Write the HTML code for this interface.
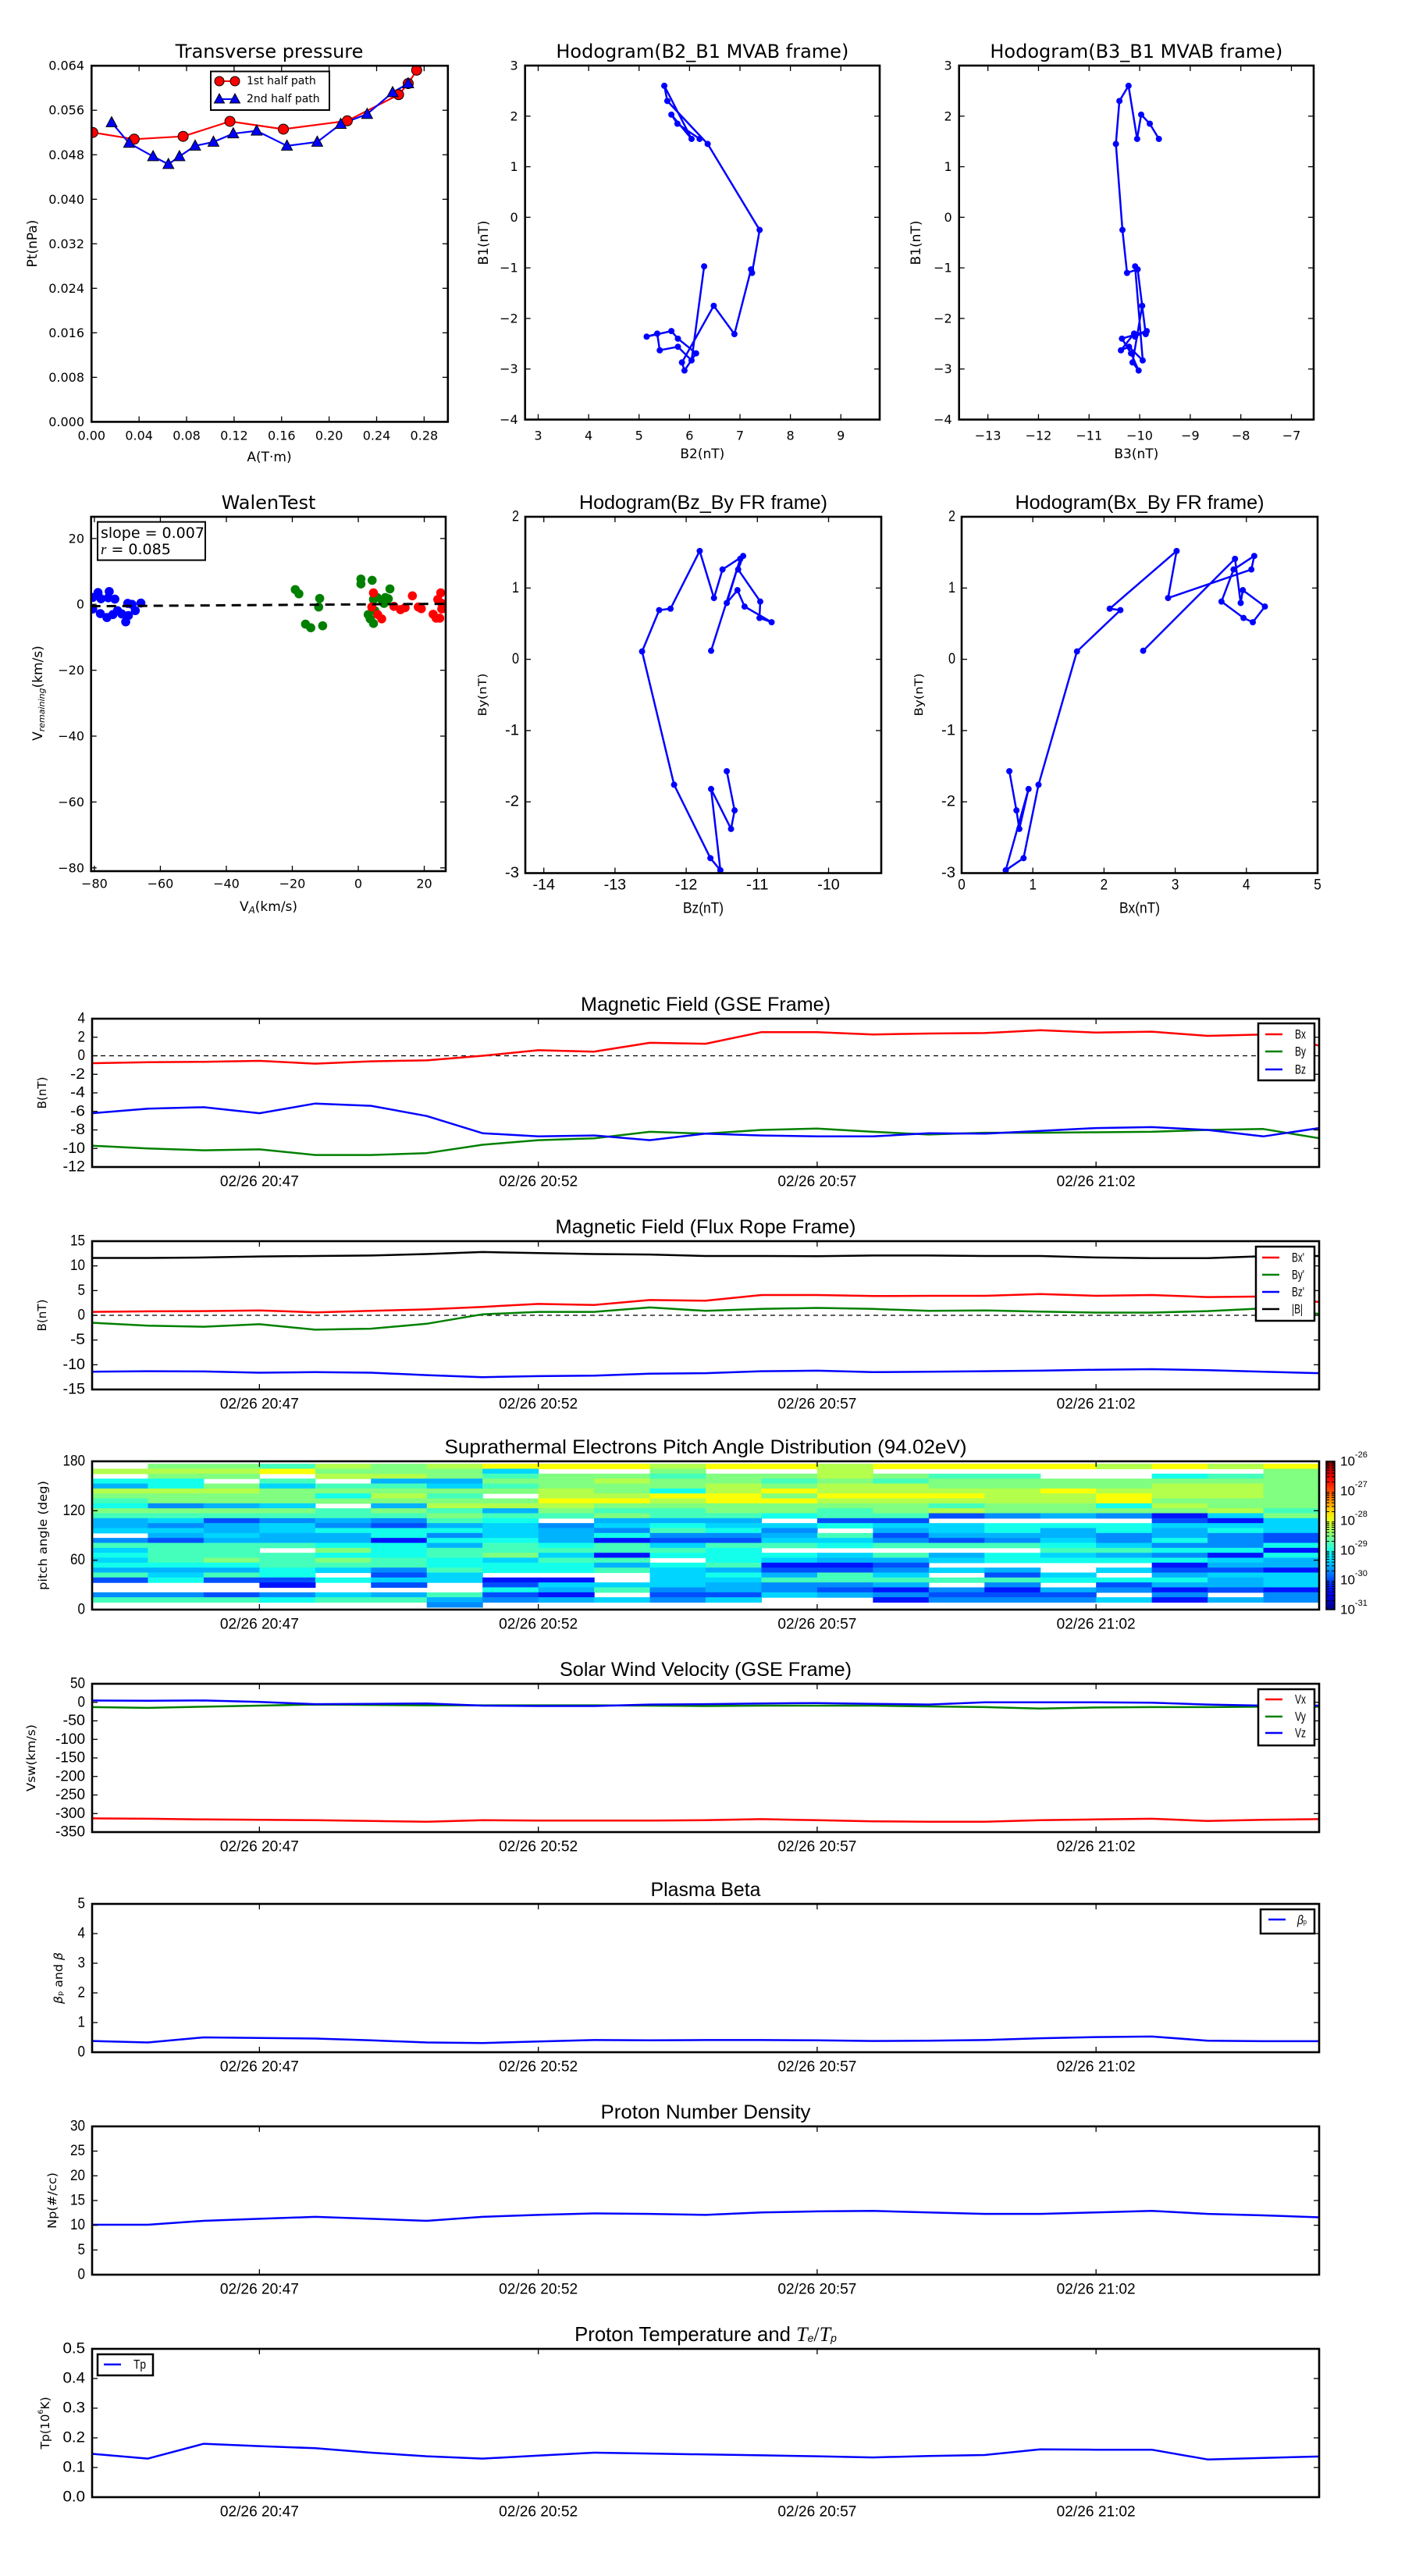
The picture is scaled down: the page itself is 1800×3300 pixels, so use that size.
<!DOCTYPE html>
<html><head><meta charset="utf-8"><title>Flux rope analysis</title>
<style>html,body{margin:0;padding:0;background:#fff}svg{display:block}</style></head>
<body>
<svg id="fig" xmlns="http://www.w3.org/2000/svg" width="1800" height="3300" viewBox="0 0 1800 3300"><rect width="1800" height="3300" fill="#fff"/></svg>
<script>
// ---------- DATA ----------
const ptA1=[0.001,0.0359,0.0771,0.1165,0.1615,0.2153,0.2585,0.2666,0.2737];
const ptP1=[0.0520,0.0508,0.0513,0.0540,0.0526,0.0541,0.0588,0.0608,0.0632];
const ptA2=[0.0169,0.0316,0.0518,0.0647,0.074,0.0872,0.1026,0.1193,0.139,0.1645,0.19,0.2098,0.232,0.2535,0.2666];
const ptP2=[0.0538,0.0501,0.0477,0.0463,0.0477,0.0496,0.0503,0.0518,0.0523,0.0496,0.0503,0.0535,0.0553,0.0592,0.0608];
const mvB1=[1.55,1.85,2.03,1.55,2.6,2.3,1.45,-0.25,-1.1,-1.03,-2.31,-1.75,-2.87,-3.03,-2.69,-2.40,-2.25,-2.36,-2.30,-2.63,-2.56,-2.83,-0.97];
const mvB2=[6.2,5.76,5.64,6.04,5.50,5.56,6.36,7.39,7.24,7.22,6.89,6.48,5.85,5.90,6.13,5.77,5.64,5.15,5.36,5.41,5.77,6.04,6.29];
const mvB3=[-9.62,-9.8,-9.97,-10.05,-10.22,-10.4,-10.47,-10.34,-10.25,-10.04,-9.88,-9.95,-10.14,-10.02,-10.17,-10.35,-9.86,-10.09,-10.11,-10.37,-10.21,-9.94,-10.09];
const wBlueX=[-80.5,-80.5,-78.9,-78,-78.2,-76.2,-75.5,-75.8,-74.4,-73.8,-73,-71.7,-70.5,-69.9,-69.7,-68.6,-67.6,-65.9];
const wBlueY=[2.1,-1.4,3.6,1.7,-2.8,-4,3.9,2,-3.1,1.6,-1.9,-2.9,-5.3,0.3,-3.4,0,-1.9,0.4];
const wGreenX=[-19.1,-18,-16,-14.4,-12,-11.7,-10.8,0.8,0.8,4.2,3,3.6,4.6,5,4.6,5.7,7.3,8.2,9.6,9.1,7.8];
const wGreenY=[4.5,3.2,-6,-7.1,-0.8,1.8,-6.5,7.7,6.2,7.3,-3.1,-4.4,-5.8,-1.9,1.5,2.1,1.1,2.1,4.7,1.7,0.3];
const wRedX=[4.6,4.1,5.9,7.1,10.8,12.8,14.2,16.4,18.2,19.1,22.7,23.6,24.7,24.1,25,25.3,25.3];
const wRedY=[3.5,-0.8,-3.1,-4.4,-0.6,-1.6,-1,2.6,-0.8,-1.3,-3,-4.2,-4.2,1.5,3.5,0.3,-1.4];
const walenSlope=0.007, walenIntercept=0.0;
const frhX=[0.67,0.77,0.81,0.94,0.62,0.87,1.08,1.62,2.23,2.08,3.02,2.9,4.07,4.11,3.82,3.65,3.96,4.09,4.26,3.95,3.92,3.84,2.55];
const frhY=[-1.57,-2.12,-2.38,-1.82,-2.96,-2.79,-1.76,0.11,0.69,0.71,1.52,0.86,1.26,1.45,1.26,0.81,0.58,0.52,0.74,0.97,0.79,1.41,0.12];
const frhZ=[-11.43,-11.32,-11.37,-11.65,-11.52,-11.66,-12.17,-12.62,-12.38,-12.22,-11.81,-11.61,-11.49,-11.2,-11.27,-10.96,-10.97,-10.8,-11.18,-11.28,-11.43,-11.24,-11.65];
const minutes=[0,1,2,3,4,5,6,7,8,9,10,11,12,13,14,15,16,17,18,19,20,21,22];
const timeTickMin=[3,8,13,18];
const timeTickLabels=["02/26 20:47","02/26 20:52","02/26 20:57","02/26 21:02"];
const gseBx=[-0.8,-0.7,-0.65,-0.55,-0.85,-0.6,-0.5,0,0.6,0.45,1.4,1.3,2.55,2.55,2.3,2.4,2.45,2.75,2.5,2.6,2.15,2.3,1.1];
const gseBy=[-9.7,-10.0,-10.2,-10.1,-10.7,-10.7,-10.5,-9.6,-9.1,-8.9,-8.2,-8.4,-8.0,-7.85,-8.2,-8.5,-8.3,-8.3,-8.25,-8.2,-8.0,-7.9,-8.9];
const gseBz=[-6.2,-5.7,-5.55,-6.2,-5.15,-5.4,-6.5,-8.35,-8.7,-8.6,-9.1,-8.4,-8.6,-8.7,-8.7,-8.35,-8.4,-8.1,-7.8,-7.7,-8.0,-8.7,-7.8];
const frBx=[0.7,0.8,0.85,1.0,0.6,0.9,1.2,1.7,2.3,2.1,3.1,2.95,4.1,4.1,3.9,3.95,3.95,4.3,3.95,4.1,3.7,3.8,2.7];
const frBy=[-1.5,-2.1,-2.3,-1.8,-2.9,-2.7,-1.7,0.2,0.7,0.7,1.6,0.9,1.3,1.5,1.3,0.9,1.0,0.75,0.55,0.55,0.85,1.4,0.3];
const frBz=[-11.4,-11.3,-11.35,-11.6,-11.5,-11.6,-12.1,-12.5,-12.3,-12.2,-11.8,-11.7,-11.3,-11.2,-11.5,-11.4,-11.3,-11.2,-11.0,-10.9,-11.1,-11.4,-11.7];
const frBt=[11.6,11.6,11.7,11.9,12.0,12.1,12.4,12.8,12.6,12.4,12.3,12.0,12.0,11.95,12.1,12.1,12.0,12.0,11.7,11.55,11.55,11.95,12.0];
const swVx=[-313,-314,-316,-317,-318,-320,-322,-318,-319,-319,-319,-318,-315,-318,-321,-322,-322,-318,-316,-314,-320,-317,-315];
const swVy=[-13,-15,-12,-9,-6,-7,-8,-8,-8,-8,-9,-10,-9,-9,-9,-11,-13,-17,-14,-13,-13,-12,-12];
const swVz=[5,4,5,1,-5,-4,-3,-9,-10,-10,-6,-5,-3,-2,-4,-6,0,0,0,-1,-6,-9,-9];
const betaP=[0.38,0.33,0.5,0.48,0.46,0.4,0.33,0.31,0.36,0.41,0.4,0.41,0.41,0.4,0.38,0.39,0.41,0.47,0.51,0.53,0.39,0.37,0.37];
const npDens=[10.1,10.1,10.9,11.3,11.7,11.3,10.9,11.7,12.1,12.4,12.3,12.1,12.6,12.8,12.9,12.6,12.3,12.3,12.6,12.9,12.3,12.0,11.6];
const tpTemp=[0.146,0.13,0.18,0.172,0.165,0.15,0.138,0.13,0.14,0.15,0.147,0.144,0.141,0.138,0.134,0.139,0.142,0.161,0.16,0.16,0.127,0.132,0.137];
// PAD: rows from high pitch angle (centre 174) down to centre 6; one char per 1-min column; w = no data
const padCenters=[174,168,162,156,150,144,138,132,126,120,114,108,102,96,90,84,78,72,66,60,54,48,42,36,30,24,18,12,6];
const padRows=[
"w887989YYY9YY9YYYY9Y9Y","999Y8885ww8ww9wwwwwww8","w88w9987887889877ww678","66w7w44889887878888888",
"4685775788898998888998","999888889869Y9999Y9998","8888697w99YY8YYY99Y998","78888888YY9YY99999Y888",
"6345w49998888887886988","8888787487788789888897","7777778778776772343158","45234376w444w22wwww215",
"4345324535655655666555","5545666543763w45646465","w454463546334724443432","3244416641225532353632",
"7777664767577677765336","577w86777776wwwww77661","6777667851666574654316","5787876577w65445666654",
"666777666467112wwww144","44465376675422354w5221","7576w25www56475w25w455","262265511w557777766645",
"www1w2w25554334w3w2445","wwwwwww647343213143121","332354721w22543222w3w3","777677434535ww13335143",
"wwwwww3wwwwwwwwwwwwwww"];
const padCodes=['1','2','3','4','5','6','7','8','9','Y'];
const padLogVals=[-30.28,-29.99,-29.69,-29.5,-29.33,-29.03,-28.79,-28.5,-28.25,-27.9];

// ---------- HELPERS ----------
const NS='http://www.w3.org/2000/svg';
const svg=document.getElementById('fig');
const DJ='"DejaVu Sans","Liberation Sans",sans-serif';
const LS='"Liberation Sans","DejaVu Sans",sans-serif';
function el(tag,attrs,parent){const e=document.createElementNS(NS,tag);for(const k in attrs)e.setAttribute(k,attrs[k]);(parent||svg).appendChild(e);return e;}
function nm(e,name){
  
  
  return e;}
function txt(x,y,s,o,parent){o=o||{};const e=el('text',{x:x,y:y,'font-size':o.size||16,'text-anchor':o.anchor||'middle','dominant-baseline':'central','font-family':o.font||DJ,fill:'#000'},parent);
  if(o.len){e.setAttribute('textLength',o.len);e.setAttribute('lengthAdjust','spacingAndGlyphs');}
  if(o.rot)e.setAttribute('transform','rotate('+o.rot+' '+x+' '+y+')');
  if(o.italic)e.setAttribute('font-style','italic');
  e.textContent=s;return e;}
function lin(d0,d1,r0,r1){return v=>r0+(v-d0)*(r1-r0)/(d1-d0);}
let clipId=0;
function axes(name,x0,x1,y0,y1,xd,yd){
  const g=nm(el('g',{}),name);
  const id='clip'+(clipId++);
  const cp=el('clipPath',{id:id},g);el('rect',{x:x0,y:y0,width:x1-x0,height:y1-y0},cp);
  const data=nm(el('g',{'clip-path':'url(#'+id+')'},g),name+'-data');
  return {g:g,data:data,x0:x0,x1:x1,y0:y0,y1:y1,X:lin(xd[0],xd[1],x0,x1),Y:lin(yd[0],yd[1],y1,y0)};
}
function frame(a,xt,yt,tl){
  tl=tl||8;
  const t=nm(el('g',{stroke:'#000','stroke-width':1.3},a.g),'ticks');
  xt.forEach(v=>{const x=a.X(v);el('line',{x1:x,y1:a.y1,x2:x,y2:a.y1-tl},t);el('line',{x1:x,y1:a.y0,x2:x,y2:a.y0+tl},t);});
  yt.forEach(v=>{const y=a.Y(v);el('line',{x1:a.x0,y1:y,x2:a.x0+tl,y2:y},t);el('line',{x1:a.x1,y1:y,x2:a.x1-tl,y2:y},t);});
  nm(el('rect',{x:a.x0,y:a.y0,width:a.x1-a.x0,height:a.y1-a.y0,fill:'none',stroke:'#000','stroke-width':2.6},a.g),'axes-frame');
}
function line(a,xs,ys,color,w,name,dash){
  const p=xs.map((v,i)=>a.X(v).toFixed(1)+','+a.Y(ys[i]).toFixed(1)).join(' ');
  const e=el('polyline',{points:p,fill:'none',stroke:color,'stroke-width':w||2.5,'stroke-linejoin':'round'},a.data);
  if(dash)e.setAttribute('stroke-dasharray',dash);
  nm(e,name);return e;}
function dots(a,xs,ys,color,r,name){
  const g=nm(el('g',{fill:color},a.data),name);
  xs.forEach((v,i)=>{const c=el('circle',{cx:a.X(v),cy:a.Y(ys[i]),r:r},g);
    
    });
  return g;}
const fmtM=v=>(v<0?'\u2212':'')+Math.abs(v);

// ---------- ROW 1 ----------
{ // Transverse pressure
  const a=axes('transverse-pressure-chart',117.3,573.8,84.2,540.4,[0,0.30],[0,0.064]);
  const xt=[0,0.04,0.08,0.12,0.16,0.20,0.24,0.28], yt=[0,0.008,0.016,0.024,0.032,0.040,0.048,0.056,0.064];
  line(a,ptA1,ptP1,'#ff0000',2.2,'first-half-line');
  line(a,ptA2,ptP2,'#0000ff',2.2,'second-half-line');
  const rg=nm(el('g',{},a.data),'first-half-markers');
  ptA1.forEach((v,i)=>{const c=el('circle',{cx:a.X(v),cy:a.Y(ptP1[i]),r:6.5,fill:'#ff0000',stroke:'#000','stroke-width':1},rg);
    
    });
  const bg=nm(el('g',{},a.data),'second-half-markers');
  ptA2.forEach((v,i)=>{const x=a.X(v),y=a.Y(ptP2[i]);const p=el('polygon',{points:(x)+','+(y-7.5)+' '+(x-7)+','+(y+5.5)+' '+(x+7)+','+(y+5.5),fill:'#0000ff',stroke:'#000','stroke-width':1},bg);
    
    });
  frame(a,xt,yt,7);
  xt.forEach(v=>txt(a.X(v),558,v.toFixed(2),{size:16},a.g));
  yt.forEach(v=>txt(108,a.Y(v),v.toFixed(3),{size:16,anchor:'end'},a.g));
  nm(txt(345,66,'Transverse pressure',{size:24},a.g),'chart-title');
  nm(txt(345,586,'A(T\u00b7m)',{size:17},a.g),'x-axis-title');
  nm(txt(42,312,'Pt(nPa)',{size:17,rot:-90},a.g),'y-axis-title');
  const lg=nm(el('g',{},a.g),'legend');
  el('rect',{x:270,y:91.5,width:152,height:49.5,fill:'#fff',stroke:'#000','stroke-width':2},lg);
  el('line',{x1:281,y1:104,x2:301,y2:104,stroke:'#ff0000','stroke-width':2},lg);
  el('circle',{cx:281,cy:104,r:6,fill:'#ff0000',stroke:'#000','stroke-width':1},lg);
  el('circle',{cx:301,cy:104,r:6,fill:'#ff0000',stroke:'#000','stroke-width':1},lg);
  nm(txt(316,104,'1st half path',{size:14,anchor:'start'},lg),'legend-entry');
  el('line',{x1:281,y1:127,x2:301,y2:127,stroke:'#0000ff','stroke-width':2},lg);
  [281,301].forEach(x=>el('polygon',{points:x+','+(127-7)+' '+(x-6.5)+','+(127+5)+' '+(x+6.5)+','+(127+5),fill:'#0000ff',stroke:'#000','stroke-width':1},lg));
  nm(txt(316,127,'2nd half path',{size:14,anchor:'start'},lg),'legend-entry');
}
function hodoTop(name,x0,x1,xd,xs,ys,xt,title,xl,ylx){
  const a=axes(name,x0,x1,84,537.5,xd,[-4,3]);
  const yt=[-4,-3,-2,-1,0,1,2,3];
  line(a,xs,ys,'#0000ff',2.5,'hodogram-line');
  dots(a,xs,ys,'#0000ff',4,'hodogram-markers');
  frame(a,xt,yt,7);
  xt.forEach(v=>txt(a.X(v),558,fmtM(v),{size:16},a.g));
  yt.forEach(v=>txt(x0-9,a.Y(v),fmtM(v),{size:16,anchor:'end'},a.g));
  nm(txt((x0+x1)/2,66,title,{size:24},a.g),'chart-title');
  nm(txt((x0+x1)/2,582,xl,{size:17},a.g),'x-axis-title');
  nm(txt(ylx,311,'B1(nT)',{size:17,rot:-90},a.g),'y-axis-title');
}
hodoTop('hodogram-b2-b1-chart',672.7,1127,[2.74,9.77],mvB2,mvB1,[3,4,5,6,7,8,9],'Hodogram(B2_B1 MVAB frame)','B2(nT)',620);
hodoTop('hodogram-b3-b1-chart',1228.7,1683,[-13.57,-6.56],mvB3,mvB1,[-13,-12,-11,-10,-9,-8,-7],'Hodogram(B3_B1 MVAB frame)','B3(nT)',1174);

// ---------- ROW 2 ----------
{ const a=axes('walen-test-chart',116.7,571,662,1116,[-81,26.5],[-81,26.6]);
  const xt=[-80,-60,-40,-20,0,20], yt=[-80,-60,-40,-20,0,20];
  dots(a,wBlueX,wBlueY,'#0000ff',5.8,'walen-blue-points');
  dots(a,wGreenX,wGreenY,'#008000',5.8,'walen-green-points');
  dots(a,wRedX,wRedY,'#ff0000',5.8,'walen-red-points');
  const fx=[-81,26.5];
  line(a,fx,fx.map(v=>walenSlope*v+walenIntercept),'#000',3,'walen-fit-line','12,8');
  frame(a,xt,yt,7);
  xt.forEach(v=>txt(a.X(v),1132,fmtM(v),{size:16},a.g));
  yt.forEach(v=>txt(108,a.Y(v),fmtM(v),{size:16,anchor:'end'},a.g));
  nm(txt(344,644,'WalenTest',{size:24},a.g),'chart-title');
  const xl=nm(txt(344,1162,'',{size:17},a.g),'x-axis-title');
  xl.innerHTML='V<tspan font-size="12" font-style="italic" dy="4">A</tspan><tspan dy="-4">(km/s)</tspan>';
  const yl=nm(txt(49,888,'',{size:17,rot:-90},a.g),'y-axis-title');
  yl.innerHTML='V<tspan font-size="11" font-style="italic" dy="4">remaining</tspan><tspan dy="-4">(km/s)</tspan>';
  const bx=nm(el('g',{},a.g),'walen-stats-box');
  el('rect',{x:125,y:668.6,width:138,height:49,fill:'#fff',stroke:'#000','stroke-width':2},bx);
  txt(129,683,'slope = 0.007',{size:19,anchor:'start'},bx);
  const r=txt(129,704,'',{size:19,anchor:'start'},bx);
  r.innerHTML='<tspan font-style="italic" font-family="Liberation Serif,serif">r</tspan> = 0.085';
}
function hodoFR(name,x0,x1,xd,xs,ys,xt,title,xl,ylx,tw){
  const a=axes(name,x0,x1,662,1118.5,xd,[-3,2]);
  const yt=[-3,-2,-1,0,1,2];
  line(a,xs,ys,'#0000ff',2.5,'hodogram-line');
  dots(a,xs,ys,'#0000ff',4,'hodogram-markers');
  frame(a,xt,yt,7);
  xt.forEach(v=>{const s=String(v);txt(a.X(v),1134,s,{size:19,font:LS,len:s.length*9.5},a.g);});
  yt.forEach(v=>{const s=String(v);txt(x0-8,a.Y(v),s,{size:19,font:LS,anchor:'end',len:s.length*9},a.g);});
  nm(txt((x0+x1)/2,644,title,{size:25,font:LS,len:tw},a.g),'chart-title');
  nm(txt((x0+x1)/2,1164,xl,{size:19,font:LS,len:52},a.g),'x-axis-title');
  nm(txt(ylx,890,'By(nT)',{size:14,rot:-90,len:55},a.g),'y-axis-title');
}
hodoFR('hodogram-bz-by-chart',673,1129,[-14.26,-9.26],frhZ,frhY,[-14,-13,-12,-11,-10],'Hodogram(Bz_By FR frame)','Bz(nT)',619,318);
hodoFR('hodogram-bx-by-chart',1232,1688,[0,5],frhX,frhY,[0,1,2,3,4,5],'Hodogram(Bx_By FR frame)','Bx(nT)',1178,319);

// ---------- TIME SERIES ----------
function tsPanel(name,y0,yd,yt,title,tw){
  const a=axes(name,118,1690,y0,y0+190,[0,22],yd);
  a.yt=yt;
  if(title) nm(txt(904,y0-18,title,{size:25,font:LS,len:tw},a.g),'chart-title');
  return a;}
function tsFinish(a,fmt){
  frame(a,timeTickMin,a.yt,7);
  timeTickMin.forEach((m,i)=>nm(txt(a.X(m),a.y1+19,timeTickLabels[i],{size:19,font:LS,len:101},a.g),'x-tick-label'));
  a.yt.forEach(v=>{const s=fmt?fmt(v):String(v);txt(109,a.Y(v),s,{size:19,font:LS,anchor:'end',len:s.length*9.5},a.g);});
}
function legendBox(a,x,y,w,h,entries,lineX,txtX){
  const g=nm(el('g',{},a.g),'legend');
  el('rect',{x:x,y:y,width:w,height:h,fill:'#fff',stroke:'#000','stroke-width':2.5},g);
  entries.forEach(e=>{el('line',{x1:lineX,y1:e[2],x2:lineX+22,y2:e[2],stroke:e[1],'stroke-width':2.5},g);
    const t=nm(txt(txtX,e[2],'',{size:17,font:LS,anchor:'start'},g),'legend-entry');
    t.innerHTML=e[0];
    t.setAttribute('textLength',e[3]||14);t.setAttribute('lengthAdjust','spacingAndGlyphs');});
}
function ylab(a,x,html,len){const t=nm(txt(x,(a.y0+a.y1)/2,'',{size:15,rot:-90,len:len},a.g),'y-axis-title');t.innerHTML=html;}

{ const a=tsPanel('magnetic-field-gse-chart',1305,[-12,4],[-12,-10,-8,-6,-4,-2,0,2,4],'Magnetic Field (GSE Frame)',320);
  line(a,[0,22],[0,0],'#000',1.3,'zero-line','6,5');
  line(a,minutes,gseBx,'#ff0000',2.5,'bx-line');
  line(a,minutes,gseBy,'#008000',2.5,'by-line');
  line(a,minutes,gseBz,'#0000ff',2.5,'bz-line');
  tsFinish(a);
  legendBox(a,1612,1311,72,73,[['Bx','#ff0000',1325],['By','#008000',1347],['Bz','#0000ff',1370]],1621,1659);
  ylab(a,54,'B(nT)',41);
}
{ const a=tsPanel('magnetic-field-flux-rope-chart',1590,[-15,15],[-15,-10,-5,0,5,10,15],'Magnetic Field (Flux Rope Frame)',385);
  line(a,[0,22],[0,0],'#000',1.3,'zero-line','6,5');
  line(a,minutes,frBx,'#ff0000',2.5,'bx-prime-line');
  line(a,minutes,frBy,'#008000',2.5,'by-prime-line');
  line(a,minutes,frBz,'#0000ff',2.5,'bz-prime-line');
  line(a,minutes,frBt,'#000000',2.5,'b-magnitude-line');
  tsFinish(a);
  legendBox(a,1609,1597,75,95,[["Bx'",'#ff0000',1611,16],["By'",'#008000',1633,16],["Bz'",'#0000ff',1655,16],['|B|','#000',1677,14]],1617,1655);
  ylab(a,54,'B(nT)',41);
}
function jet(t){const c=v=>Math.round(255*Math.max(0,Math.min(1,v)));
  return 'rgb('+c(Math.min(4*t-1.5,-4*t+4.5))+','+c(Math.min(4*t-0.5,-4*t+3.5))+','+c(Math.min(4*t+0.5,-4*t+2.5))+')';}
{ const a=tsPanel('pitch-angle-distribution-chart',1872,[0,180],[0,60,120,180],'Suprathermal Electrons Pitch Angle Distribution (94.02eV)',669);
  const cg=nm(el('g',{},a.data),'heatmap');
  padRows.forEach((row,r)=>{const c=padCenters[r];
    for(let i=0;i<row.length;i++){const k=padCodes.indexOf(row[i]);if(k<0)continue;
      const v=padLogVals[k];const t=(v+31)/5;
      const x=a.X(minutes[i]),x2=a.X(minutes[i]+1),y=a.Y(c+3),y2=a.Y(c-3);
      const cell=el('rect',{x:x.toFixed(2),y:y.toFixed(2),width:(x2-x+0.6).toFixed(2),height:(y2-y+0.6).toFixed(2),fill:jet(t)},cg);
      
      }});
  tsFinish(a);
  ylab(a,55,'pitch angle (deg)',140);
  const cb=nm(el('g',{},a.g),'colorbar');
  const gr=el('linearGradient',{id:'jetgrad',x1:0,y1:1,x2:0,y2:0},cb);
  for(let i=0;i<=20;i++)el('stop',{offset:(i/20),'stop-color':jet(i/20)},gr);
  el('rect',{x:1699,y:1872,width:11,height:190,fill:'url(#jetgrad)',stroke:'#000','stroke-width':1.5},cb);
  const cbExp=[-31,-30,-29,-28,-27,-26];
  cbExp.forEach(e=>{const y=lin(-31,-26,2062,1872)(e);
    for(let m=2;m<10&&e<-26;m++){const ym=y-Math.log10(m)*38;el('line',{x1:1699,y1:ym,x2:1703,y2:ym,stroke:'#000','stroke-width':1},cb);el('line',{x1:1710,y1:ym,x2:1706,y2:ym,stroke:'#000','stroke-width':1},cb);}
    const t=txt(1717,y,'',{size:17,font:LS,anchor:'start'},cb);t.innerHTML='10<tspan font-size="11" dy="-8">'+e+'</tspan>';});
}
{ const a=tsPanel('solar-wind-velocity-chart',2157,[-350,50],[-350,-300,-250,-200,-150,-100,-50,0,50],'Solar Wind Velocity (GSE Frame)',374);
  line(a,minutes,swVx,'#ff0000',2.5,'vx-line');
  line(a,minutes,swVy,'#008000',2.5,'vy-line');
  line(a,minutes,swVz,'#0000ff',2.5,'vz-line');
  tsFinish(a);
  legendBox(a,1612,2164,72,72,[['Vx','#ff0000',2177],['Vy','#008000',2199],['Vz','#0000ff',2220]],1621,1659);
  ylab(a,40,'Vsw(km/s)',86);
}
{ const a=tsPanel('plasma-beta-chart',2439,[0,5],[0,1,2,3,4,5],'Plasma Beta',141);
  line(a,minutes,betaP,'#0000ff',2.5,'beta-p-line');
  tsFinish(a);
  legendBox(a,1615,2446,69,31,[['<tspan font-style="italic">β</tspan><tspan font-size="9" dy="3">p</tspan>','#0000ff',2459,12]],1625,1662);
  ylab(a,75,'<tspan font-style="italic">β</tspan><tspan font-size="9" dy="3">p</tspan><tspan dy="-3"> and </tspan><tspan font-style="italic">β</tspan>',66);
}
{ const a=tsPanel('proton-density-chart',2724,[0,30],[0,5,10,15,20,25,30],'Proton Number Density',269);
  line(a,minutes,npDens,'#0000ff',2.5,'np-line');
  tsFinish(a);
  ylab(a,67,'Np(#/cc)',72);
}
{ const a=tsPanel('proton-temperature-chart',3009,[0,0.5],[0,0.1,0.2,0.3,0.4,0.5],'',300);
  const tt=nm(txt(904,2990,'',{size:26,font:LS},a.g),'chart-title-math');
  tt.innerHTML='<tspan textLength="284" lengthAdjust="spacingAndGlyphs">Proton Temperature and </tspan><tspan font-family="Liberation Serif,serif" font-style="italic">T</tspan><tspan font-size="14" font-style="italic" dy="5">e</tspan><tspan dy="-5" font-family="Liberation Serif,serif">/</tspan><tspan font-family="Liberation Serif,serif" font-style="italic">T</tspan><tspan font-size="14" font-style="italic" dy="5">p</tspan>';
  line(a,minutes,tpTemp,'#0000ff',2.5,'tp-line');
  tsFinish(a,v=>v.toFixed(1));
  legendBox(a,125,3016,71,27,[['Tp','#0000ff',3029,16]],133,171);
  ylab(a,58,'Tp(10<tspan font-size="9" dy="-5">6</tspan><tspan dy="5">K)</tspan>',67);
}
</script>
</body></html>
